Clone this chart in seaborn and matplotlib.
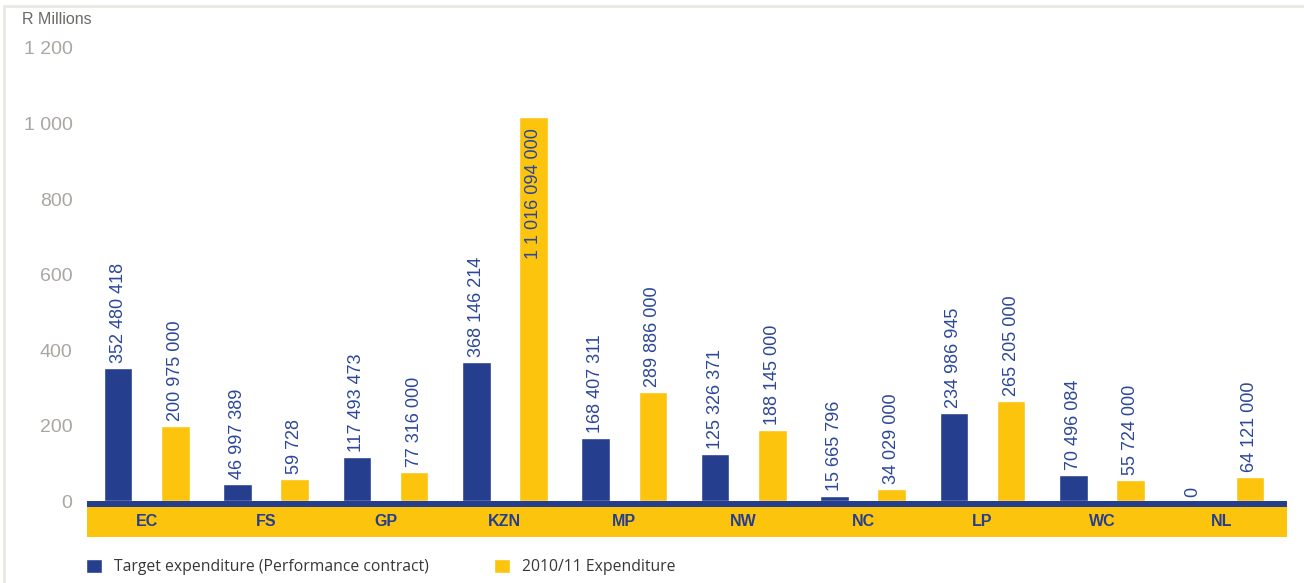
import matplotlib
matplotlib.use("Agg")
import matplotlib.pyplot as plt
from matplotlib.lines import Line2D
import seaborn as sns
import pandas as pd

# Provincial expenditure, R millions
provinces = ["EC", "FS", "GP", "KZN", "MP", "NW", "NC", "LP", "WC", "NL"]
target_expenditure = [352.480418, 46.997389, 117.493473, 368.146214, 168.407311,
                      125.326371, 15.665796, 234.986945, 70.496084, 0.0]
actual_expenditure = [200.975, 59.728, 77.316, 1016.094, 289.886,
                      188.145, 34.029, 265.205, 55.724, 64.121]
target_labels = ["352 480 418", "46 997 389", "117 493 473", "368 146 214", "168 407 311",
                 "125 326 371", "15 665 796", "234 986 945", "70 496 084", "0"]
actual_labels = ["200 975 000", "59 728", "77 316 000", "1 1 016 094 000", "289 886 000",
                 "188 145 000", "34 029 000", "265 205 000", "55 724 000", "64 121 000"]
series_names = ["Target expenditure (Performance contract)", "2010/11 Expenditure"]
y_ticks = [0, 200, 400, 600, 800, 1000, 1200]
y_tick_labels = ["0", "200", "400", "600", "800", "1 000", "1 200"]

NAVY = "#263e8e"
LABEL_BLUE = "#2c479a"
YELLOW = "#fcc40c"
GREY = "#aaa6a1"

sns.set_theme(style="white")
plt.rcParams["font.family"] = ["Liberation Sans", "DejaVu Sans"]

df = pd.DataFrame({
    "province": provinces * 2,
    "value": target_expenditure + actual_expenditure,
    "series": [series_names[0]] * len(provinces) + [series_names[1]] * len(provinces),
})

fig = plt.figure(figsize=(13.04, 5.83), dpi=100)
ax = fig.add_axes([87 / 1304, 46 / 583, 1200 / 1304, 497 / 583])

sns.barplot(data=df, x="province", y="value", hue="series", order=provinces,
            hue_order=series_names, palette=[NAVY, YELLOW], width=0.96, gap=0.5,
            saturation=1, errorbar=None, ax=ax, zorder=2)

ax.set_xlim(-0.5, 1200 / 119.4 - 0.5)
ax.set_ylim(-94, 1221)

# baseline strip and category band beneath the bars
ax.axhspan(-14, 0, color=NAVY, zorder=3, lw=0)
ax.axhspan(-94, -14, color=YELLOW, zorder=3, lw=0)
for i, name in enumerate(provinces):
    ax.text(i, -54, name, ha="center", va="center", color=NAVY,
            fontsize=11.5, fontweight="bold", zorder=4)

# value labels above (or inside) each bar
label_sets = [target_labels, actual_labels]
for container, labels in zip(ax.containers, label_sets):
    for bar, text in zip(container, labels):
        x = bar.get_x() + bar.get_width() / 2
        h = bar.get_height()
        if h > 900:
            ax.text(x, h - 28, text, rotation=90, ha="center", va="top",
                    color=LABEL_BLUE, fontsize=13, zorder=4)
        else:
            ax.text(x, h + 13, text, rotation=90, ha="center", va="bottom",
                    color=LABEL_BLUE, fontsize=13, zorder=4)

ax.set_yticks(y_ticks)
ax.set_yticklabels(y_tick_labels)
ax.tick_params(axis="y", length=0, pad=10.5, labelsize=14, labelcolor=GREY)
ax.tick_params(axis="x", length=0, labelbottom=False)
ax.set_xlabel("")
ax.set_ylabel("")
for s in ax.spines.values():
    s.set_visible(False)

fig.text(22 / 1304, 1 - 19 / 583, "R Millions", ha="left", va="center",
         fontsize=11.5, color="#6d6a66")

# legend below the band
sns.move_legend(ax, loc="center left", bbox_to_anchor=(72 / 1304, 1 - 567 / 583),
                bbox_transform=fig.transFigure, ncol=2, frameon=False, title=None,
                handlelength=1.0, handleheight=1.0, handletextpad=0.75,
                columnspacing=4.2, fontsize=11.3)
for t in ax.get_legend().get_texts():
    t.set_color("#3a3836")
    t.set_family(["Open Sans", "DejaVu Sans"])

# light page frame
fig.add_artist(Line2D([4 / 1304, 1], [1 - 5.5 / 583, 1 - 5.5 / 583],
                      transform=fig.transFigure, color="#e9e9e4", lw=2))
fig.add_artist(Line2D([4 / 1304, 4 / 1304], [0, 1 - 5.5 / 583],
                      transform=fig.transFigure, color="#e9e9e4", lw=2))

fig.savefig("out.png", dpi=100, facecolor="white")
